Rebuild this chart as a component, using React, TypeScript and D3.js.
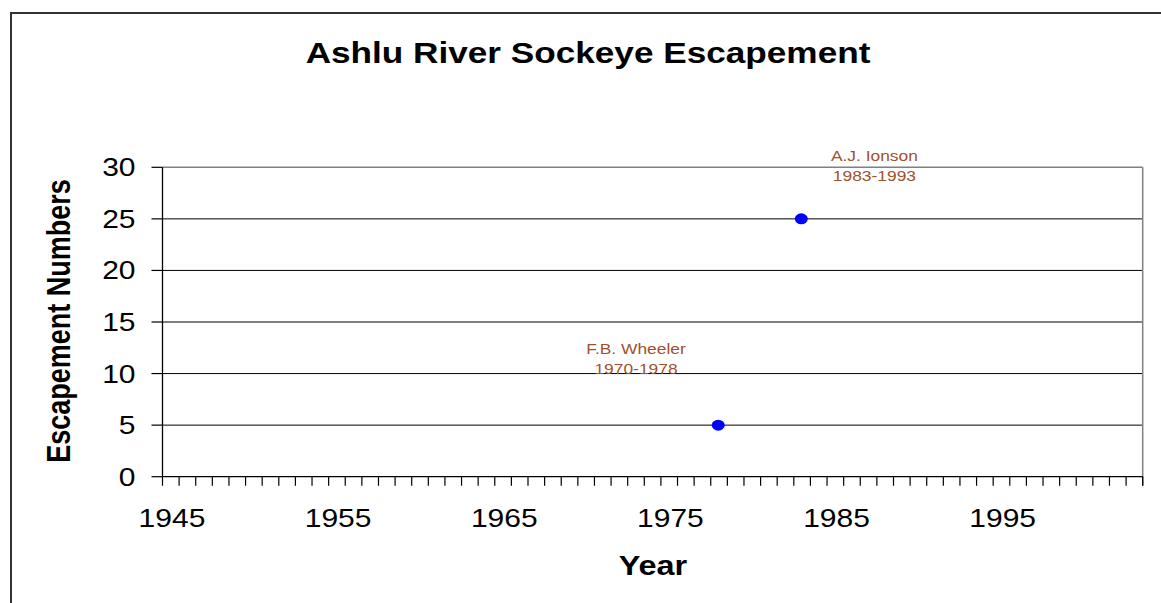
import React from "react";
import * as d3 from "d3";

// Survey observations: year and sockeye counted
const years = [1978, 1983];
const counts = [5, 25];

// Observer annotations placed above each observation
const noteNames = ["F.B. Wheeler", "A.J. Ionson"];
const notePeriods = ["1970-1978", "1983-1993"];
const noteYears = [1973.05, 1987.4];
const noteValues = [11.9, 30.6];

const yTicks = [0, 5, 10, 15, 20, 25, 30];
const xLabels = [1945, 1955, 1965, 1975, 1985, 1995];

const W = 1161;
const H = 603;
const FONT = "'Liberation Sans', Arial, Helvetica, sans-serif";
const SX = 1.2; // horizontal stretch of the whole chart

const plot = { left: 162.5, right: 1142.7, top: 167.3, bottom: 476.7 };

const xMin = 1944.55;
const xMax = xMin + 59;

export default function App() {
  const x = d3.scaleLinear().domain([xMin, xMax]).range([plot.left, plot.right]);
  const y = d3.scaleLinear().domain([0, 30]).range([plot.bottom, plot.top]);
  const minorTicks = d3.range(0, 60).map((i) => xMin + i);

  const stretched = (tx: number, ty: number, extra = "") =>
    `translate(${tx},${ty}) scale(${SX},1)${extra}`;

  return (
    <svg
      width={W}
      height={H}
      viewBox={`0 0 ${W} ${H}`}
      style={{ position: "absolute", left: 0, top: 0, background: "#fff" }}
      fontFamily={FONT}
    >
      <rect x={0} y={0} width={W} height={H} fill="#fff" />
      {/* outer chart frame */}
      <line x1={10} y1={13} x2={W} y2={13} stroke="#333" strokeWidth={2} />
      <line x1={11} y1={12} x2={11} y2={H} stroke="#333" strokeWidth={2} />

      {/* title */}
      <text
        transform={stretched(588, 63)}
        textAnchor="middle"
        fontSize={29.3}
        fontWeight="bold"
        fill="#000"
      >
        Ashlu River Sockeye Escapement
      </text>

      {/* horizontal gridlines */}
      {yTicks
        .filter((t) => t > 0 && t < 30)
        .map((t) => (
          <line
            key={`g${t}`}
            x1={plot.left}
            x2={plot.right}
            y1={y(t)}
            y2={y(t)}
            stroke="#000"
            strokeWidth={1}
          />
        ))}

      {/* plot area border (top and right) */}
      <line x1={plot.left} x2={plot.right} y1={plot.top} y2={plot.top} stroke="#808080" strokeWidth={1.5} />
      <line x1={plot.right} x2={plot.right} y1={plot.top} y2={plot.bottom} stroke="#808080" strokeWidth={1.5} />

      {/* y axis */}
      <line x1={plot.left} x2={plot.left} y1={plot.top} y2={plot.bottom} stroke="#000" strokeWidth={1.3} />
      {yTicks.map((t) => (
        <g key={`y${t}`}>
          <line x1={plot.left - 11} x2={plot.left} y1={y(t)} y2={y(t)} stroke="#000" strokeWidth={1.2} />
          <text
            transform={stretched(135.5, y(t) + 9)}
            textAnchor="end"
            fontSize={25}
            fill="#000"
          >
            {t}
          </text>
        </g>
      ))}

      {/* x axis */}
      <line x1={plot.left} x2={plot.right} y1={plot.bottom} y2={plot.bottom} stroke="#000" strokeWidth={1.3} />
      {minorTicks.concat([xMax]).map((t, i) => (
        <line
          key={`xt${i}`}
          x1={x(t)}
          x2={x(t)}
          y1={plot.bottom}
          y2={plot.bottom + 9}
          stroke="#000"
          strokeWidth={1.2}
        />
      ))}
      {xLabels.map((t) => (
        <text
          key={`xl${t}`}
          transform={stretched(x(t) + 2, 527)}
          textAnchor="middle"
          fontSize={25}
          fill="#000"
        >
          {t}
        </text>
      ))}

      {/* axis titles */}
      <text
        transform={stretched(653, 575)}
        textAnchor="middle"
        fontSize={27}
        fontWeight="bold"
        fill="#000"
      >
        Year
      </text>
      <text
        transform={stretched(70, 321, " rotate(-90)")}
        textAnchor="middle"
        fontSize={27}
        fontWeight="bold"
        fill="#000"
      >
        Escapement Numbers
      </text>

      {/* annotations */}
      {noteNames.map((n, i) => (
        <g key={`n${i}`} fill="#A0522D" fontSize={14.5}>
          <text transform={stretched(x(noteYears[i]), y(noteValues[i]))} textAnchor="middle">
            {n}
          </text>
          <text transform={stretched(x(noteYears[i]), y(noteValues[i]) + 20)} textAnchor="middle">
            {notePeriods[i]}
          </text>
        </g>
      ))}

      {/* observations */}
      {years.map((yr, i) => (
        <ellipse key={`p${i}`} cx={x(yr)} cy={y(counts[i])} rx={6.5} ry={5.5} fill="#0000FF" />
      ))}
    </svg>
  );
}
